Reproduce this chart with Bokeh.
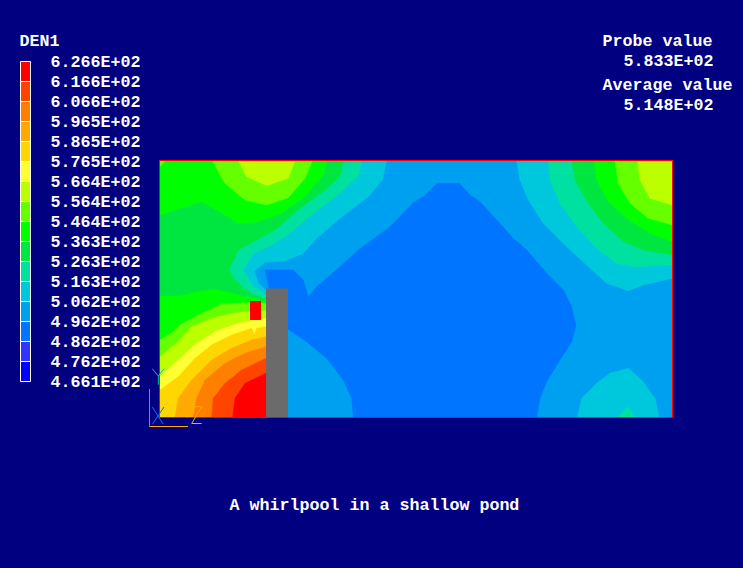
from bokeh.plotting import figure
from bokeh.models import Range1d
from bokeh.core.properties import value
from bokeh.embed import file_html
from bokeh.resources import INLINE

NAVY = "#000080"
LEVEL_LABELS = ["6.266E+02","6.166E+02","6.066E+02","5.965E+02","5.865E+02","5.765E+02",
                "5.664E+02","5.564E+02","5.464E+02","5.363E+02","5.263E+02","5.163E+02",
                "5.062E+02","4.962E+02","4.862E+02","4.762E+02","4.661E+02"]
BAND_COLORS = ["#ff0000","#ff4400","#ff8000","#ffaa00","#ffd700","#ffff33","#bbff00","#66ff00",
               "#00ff00","#00e640","#00e0a0","#00c8dc","#00a0f0","#0075ff","#3333ff","#0000ff"]
C = dict(zip(["red","ror","org","amb","gld","yel","lim","lgr","grn","mgr","tea","cya","lbl","blu","ind","dbl"], BAND_COLORS))

# contour polygons, in a 3x grid anchored at (140,150) (left part) and (400,150) (right part)
L_CYAN = [(60,32),(740,32),(727,90),(685,140),(600,205),(530,265),(490,310),(435,333),(375,337),(343,363),(355,400),(378,420),(378,802),(60,802)]
L_TEAL = [(60,32),(665,32),(655,75),(600,130),(520,190),(450,250),(395,285),(340,310),(310,360),(340,410),(378,435),(378,802),(60,802)]
L_MGRN = [(60,32),(610,32),(600,80),(555,120),(480,175),(405,240),(350,270),(295,300),(267,360),(285,390),(330,430),(378,447),(378,802),(60,802)]
T_GRN = [(60,32),(560,32),(550,75),(495,140),(425,190),(355,215),(295,220),(255,195),(185,155),(120,175),(60,195)]
T_LGR = [(218,32),(240,75),(255,100),(315,150),(380,165),(445,143),(495,85),(517,32)]
T_LIM = [(295,32),(320,80),(380,107),(445,85),(465,32)]
T_CORNER = [(60,32),(75,32),(60,50)]
B_GRN = [(60,438),(120,438),(170,425),(220,418),(270,428),(320,440),(378,455),(378,802),(60,802)]
B_LGR = [(60,570),(95,550),(120,525),(175,495),(245,462),(330,458),(378,460),(378,802),(60,802)]
B_LIM = [(60,620),(115,575),(155,530),(215,505),(295,487),(378,482),(378,802),(60,802)]
B_YEL = [(60,680),(115,630),(165,585),(225,545),(295,520),(378,505),(378,802),(60,802)]
B_GLD = [(60,720),(115,680),(165,625),(215,585),(275,555),(335,535),(343,555),(350,535),(378,530),(378,802),(60,802)]
B_AMB = [(105,802),(115,745),(155,690),(215,630),(275,595),(335,570),(378,560),(378,802)]
B_ORG = [(160,802),(170,745),(195,690),(255,640),(315,610),(378,590),(378,802)]
B_ROR = [(215,802),(220,745),(255,700),(305,660),(378,625),(378,802)]
B_RED = [(278,802),(285,745),(315,700),(378,670),(378,802)]
MID_BLUE_L = [(375,360),(460,360),(490,390),(505,440),(530,410),(595,355),(655,300),(765,220),(810,180),
              (810,802),(640,802),(635,745),(610,690),(560,625),(500,575),(443,537),(420,470),(395,418),(387,415)]
MID_BLUE_R = [(-30,802),(-30,230),(0,200),(40,158),(70,140),(112,100),(178,100),(210,135),(240,155),(290,210),(340,265),(380,300),
              (440,370),(490,420),(515,470),(528,525),(515,575),(480,630),(440,695),(420,745),(410,802)]
R_CYAN = [(350,32),(360,90),(385,150),(430,220),(500,290),(560,345),(620,400),(685,422),(730,405),(817,385),(817,32)]
R_TEAL = [(445,32),(450,90),(480,160),(530,230),(590,295),(650,340),(700,350),(817,345),(817,32)]
R_MGRN = [(515,32),(525,90),(565,160),(610,220),(670,275),(730,300),(817,315),(817,32)]
R_GRN = [(582,32),(590,90),(625,155),(680,205),(750,250),(817,275),(817,32)]
R_LGR = [(645,32),(655,100),(690,160),(745,205),(817,225),(817,32)]
R_LIM = [(713,32),(720,90),(750,145),(817,165),(817,32)]
R_LOBE_CYAN = [(533,802),(545,745),(590,700),(630,670),(685,655),(725,690),(765,745),(777,802)]
R_LOBE_TEAL = [(652,802),(685,770),(702,802)]

def lft(pts): return [140+x/3 for x,_ in pts],[150+y/3 for _,y in pts]
def rgt(pts): return [400+x/3 for x,_ in pts],[150+y/3 for _,y in pts]

PX0, PX1, PY0, PY1 = 159.5, 672.5, 160.5, 417.5

p = figure(width=743, height=568, x_range=Range1d(0.5,743.5), y_range=Range1d(568.5,0.5),
           output_backend="svg", toolbar_location=None, min_border=0,
           background_fill_color=NAVY, border_fill_color=NAVY, outline_line_color=None)
p.axis.visible = False
p.grid.visible = False

p.quad(left=[PX0],right=[PX1],top=[PY0],bottom=[PY1],fill_color=C["lbl"],line_color=None)
layers = [(lft,MID_BLUE_L,"blu"),(rgt,MID_BLUE_R,"blu"),(lft,L_CYAN,"cya"),(lft,L_TEAL,"tea"),(lft,L_MGRN,"mgr"),
          (lft,T_GRN,"grn"),(lft,T_LGR,"lgr"),(lft,T_LIM,"lim"),(lft,T_CORNER,"lgr"),
          (lft,B_GRN,"grn"),(lft,B_LGR,"lgr"),(lft,B_LIM,"lim"),(lft,B_YEL,"yel"),(lft,B_GLD,"gld"),
          (lft,B_AMB,"amb"),(lft,B_ORG,"org"),(lft,B_ROR,"ror"),(lft,B_RED,"red"),
          (rgt,R_CYAN,"cya"),(rgt,R_TEAL,"tea"),(rgt,R_MGRN,"mgr"),(rgt,R_GRN,"grn"),(rgt,R_LGR,"lgr"),(rgt,R_LIM,"lim"),
          (rgt,R_LOBE_CYAN,"cya"),(rgt,R_LOBE_TEAL,"tea")]
xs, ys, cs = [], [], []
for f, pts, c in layers:
    x, y = f(pts); xs.append(x); ys.append(y); cs.append(C[c])
p.patches(xs, ys, fill_color=cs, line_color=cs, line_width=0.5)

# obstacle and probe cell
p.quad(left=[266],right=[288],top=[288.5],bottom=[417],fill_color="#6b6b6b",line_color=None)
p.quad(left=[250],right=[261],top=[301],bottom=[320],fill_color="#ff0000",line_color=None)
# domain outline
p.quad(left=[PX0],right=[PX1],top=[PY0],bottom=[PY1],fill_color=None,line_color="#ff0000",line_width=1)

# triad
p.multi_line([[149.5,149.5],[149.5,188]],[[389,426.5],[426.5,426.5]],line_color=["#00c8a0","#ffaa00"],line_width=1)
p.multi_line([[152.3,158.3,158.3],[164,158.3],[152.3,163.3],[164,152.3],[193,201.7,191.7,201.7]],
             [[368.7,376,384.7],[368.7,376],[407,424.3],[407,424.3],[406.7,406.7,423.5,423.5]],
             line_color=["#00c8a0","#00c8dc","#0075ff","#0075ff","#ffaa00"],line_width=1)

# colour bar
n = len(BAND_COLORS)
p.quad(left=[20.5]*n,right=[30.5]*n,top=[61.5+20*i for i in range(n)],bottom=[81.5+20*i for i in range(n)],
       fill_color=BAND_COLORS,line_color="white",line_width=1)

FONT = value("Liberation Mono")
def txt(x,y,s):
    p.text(x=x,y=y,text=s,text_color="white",text_font=FONT,text_font_size="16.67px",
           text_font_style="bold",text_baseline="middle",text_align="left")
txt([50.5]*len(LEVEL_LABELS),[62.5+20*i for i in range(len(LEVEL_LABELS))],LEVEL_LABELS)
txt([19.5,602.5,623.5,602.5,623.5,229.5],[41.5,41.5,61.5,85.5,105.5,505.5],
    ["DEN1","Probe value","5.833E+02","Average value","5.148E+02","A whirlpool in a shallow pond"])

html = file_html(p, INLINE)
html = html.replace("<head>", "<head><style>html,body{background:#000080;overflow:hidden}</style>", 1)
open("out.html", "w").write(html)
